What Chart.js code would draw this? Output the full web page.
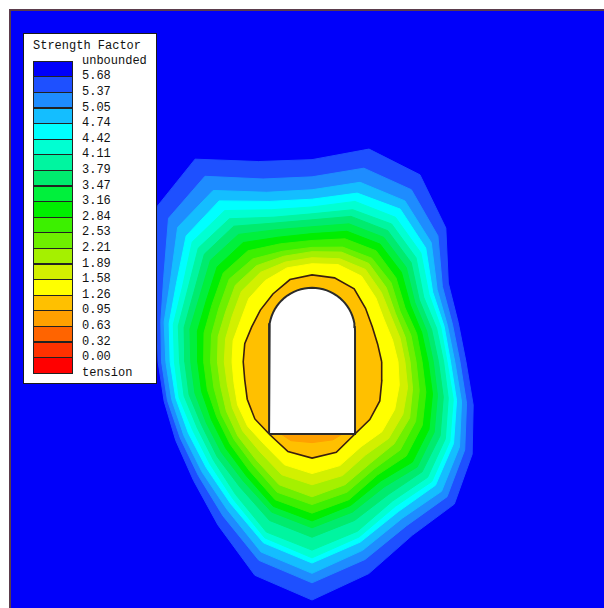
<!DOCTYPE html>
<html lang="en">
<head>
  <meta charset="UTF-8">
  <title>Strength Factor</title>
  <script src="https://cdn.jsdelivr.net/npm/chart.js"></script>
  <style>
    body { margin: 0; background: #fff; }
    #wrap { position: relative; width: 604px; height: 608px; }
    #legend {
      position: absolute; left: 23px; top: 33px; width: 132px; height: 349px;
      background: #fff; border: 1px solid #1a1a1a;
      font-family: "Liberation Mono", "DejaVu Sans Mono", monospace; font-size: 12px; color: #111;
    }
    #legend .title { position: absolute; left: 9px; top: 5px; line-height: 14px; white-space: nowrap; }
    #legend .swatch { position: absolute; left: 9px; width: 40px; height: 16.6px; box-sizing: border-box; border: 1px solid #222; }
    #legend .lbl { position: absolute; left: 58px; line-height: 14px; white-space: nowrap; }
  </style>
</head>
<body>
  <div id="wrap">
    <canvas id="chart" width="604" height="608"></canvas>
    <div id="legend"><div class="title">Strength Factor</div></div>
  </div>
  <script>
    // legend: labels sit on the band boundaries, colours are the bands between them
    const legendLabels = ['unbounded', '5.68', '5.37', '5.05', '4.74', '4.42', '4.11', '3.79', '3.47', '3.16',
      '2.84', '2.53', '2.21', '1.89', '1.58', '1.26', '0.95', '0.63', '0.32', '0.00', 'tension'];
    const bandColors = ['#0000fa', '#1e50ff', '#1e8cff', '#14beff', '#00ffff', '#00ffd2', '#00f5a0', '#00eb6e',
      '#00f03c', '#00ee00', '#3cf000', '#6ef000', '#a5f000', '#d2f000', '#ffff00', '#ffc000', '#ffa000',
      '#ff6400', '#ff3200', '#ff0000'];

    // contour radii (m) around the tunnel centre, one value per ray angle
    const angles = [0, 15, 30, 45, 60, 75, 90, 105, 120, 135, 150, 165, 180, 195, 210, 225, 240, 255, 270, 285, 300, 315, 330, 345];
    const r568 = [17.9, 17.6, 18.3, 22.0, 25.1, 25.6, 23.5, 24.1, 27.2, 25.5, 20.9, 18.7, 17.9, 17.8, 18.3, 19.5, 21.9, 25.7, 27.7, 25.5, 23.3, 23.4, 21.5, 19.4];
    const r537 = [17.2, 16.9, 17.5, 20.7, 23.1, 23.3, 21.5, 22.0, 24.9, 23.6, 19.9, 18.2, 17.5, 17.4, 17.7, 18.7, 20.7, 23.9, 25.7, 23.8, 22.0, 22.2, 20.5, 18.6];
    const r505 = [16.6, 16.3, 16.8, 19.6, 21.6, 21.6, 20.0, 20.4, 23.0, 22.1, 19.0, 17.8, 17.0, 16.9, 17.2, 18.1, 19.8, 22.9, 24.6, 22.7, 21.0, 21.3, 19.8, 18.0];
    const r474 = [16.1, 15.9, 16.2, 18.7, 20.5, 20.3, 18.9, 19.3, 21.6, 20.7, 18.2, 17.2, 16.5, 16.4, 16.6, 17.4, 19.0, 21.8, 23.4, 21.7, 20.1, 20.3, 19.0, 17.4];
    const r442 = [15.7, 15.5, 15.7, 17.9, 19.4, 19.3, 18.0, 18.3, 20.3, 19.7, 17.4, 16.7, 16.0, 16.0, 16.0, 16.8, 18.4, 21.2, 22.8, 21.1, 19.4, 19.7, 18.5, 17.0];
    const r411 = [15.3, 15.0, 15.0, 17.1, 18.5, 18.3, 17.2, 17.4, 19.2, 18.7, 16.7, 16.1, 15.4, 15.4, 15.4, 16.2, 17.8, 20.5, 21.9, 20.4, 18.7, 19.0, 17.9, 16.4];
    const r379 = [14.7, 14.4, 14.4, 16.3, 17.6, 17.5, 16.5, 16.7, 18.2, 17.7, 15.9, 15.4, 14.8, 14.8, 14.8, 15.6, 16.8, 19.1, 20.4, 19.1, 17.8, 18.1, 17.2, 15.8];
    const r347 = [14.1, 13.8, 13.8, 15.5, 16.7, 16.6, 15.7, 15.9, 17.1, 16.7, 15.1, 14.7, 14.1, 14.1, 14.2, 14.9, 16.0, 18.1, 19.3, 18.1, 16.8, 17.3, 16.4, 15.1];
    const r316 = [13.5, 13.2, 13.2, 14.7, 15.8, 15.7, 14.9, 15.0, 16.0, 15.6, 14.2, 13.8, 13.3, 13.3, 13.5, 14.2, 15.3, 17.4, 18.5, 17.3, 16.0, 16.5, 15.7, 14.5];
    const r284 = [12.8, 12.6, 12.5, 13.8, 14.9, 14.8, 14.1, 14.2, 14.9, 14.6, 13.4, 13.0, 12.6, 12.6, 12.8, 13.5, 14.6, 16.6, 17.6, 16.6, 15.2, 15.5, 14.8, 13.7];
    const r253 = [12.1, 11.9, 11.8, 13.0, 13.9, 13.8, 13.3, 13.3, 13.8, 13.6, 12.5, 12.1, 11.8, 11.8, 12.2, 12.8, 13.8, 15.7, 16.6, 15.7, 14.4, 14.5, 13.9, 12.9];
    const r221 = [11.4, 11.2, 11.2, 12.2, 13.2, 13.2, 12.8, 12.7, 12.9, 12.6, 11.6, 11.3, 11.0, 11.0, 11.5, 12.2, 13.1, 14.8, 15.7, 14.8, 13.6, 13.5, 13.1, 12.1];
    const r189 = [10.8, 10.6, 10.6, 11.4, 12.4, 12.4, 12.1, 12.0, 12.0, 11.6, 10.7, 10.4, 10.2, 10.2, 10.7, 11.4, 12.1, 13.6, 14.3, 13.7, 12.5, 12.6, 12.2, 11.5];
    const r158 = [10.0, 9.7, 9.7, 10.5, 11.5, 11.7, 11.4, 11.3, 10.9, 10.4, 9.6, 9.5, 9.3, 9.4, 10.0, 10.6, 11.1, 12.4, 13.0, 12.5, 11.4, 11.5, 11.1, 10.5];
    const r126 = [8.1, 7.9, 8.1, 8.8, 9.8, 10.1, 10.1, 9.9, 9.1, 8.5, 8.1, 8.1, 8.0, 8.1, 8.7, 9.4, 9.8, 10.8, 11.2, 10.9, 9.8, 9.5, 9.1, 8.4];
    const r095 = [5.0, 5.0, 5.0, 5.0, 5.0, 5.0, 5.0, 5.0, 5.0, 5.0, 5.0, 5.0, 5.0, 5.0, 5.0, 5.0, 9.0, 9.5, 9.4, 9.4, 9.0, 5.0, 5.0, 5.0];

    // tunnel (m): floor at y = 0, straight walls then a semicircular crown
    const tunnelSpan = 10;
    const wallHeight = 12;
    const ringCentreY = 8.4;

    const contours = [r568, r537, r505, r474, r442, r411, r379, r347, r316, r284, r253, r221, r189, r158, r126, r095];

    function ring(radii) {
      const pts = angles.map((a, i) => {
        const t = a * Math.PI / 180;
        return { x: radii[i] * Math.cos(t), y: ringCentreY + radii[i] * Math.sin(t) };
      });
      pts.push(pts[0]);
      return pts;
    }

    function tunnel() {
      const h = tunnelSpan / 2;
      const pts = [{ x: -h, y: 0 }, { x: h, y: 0 }, { x: h, y: wallHeight }];
      for (let i = 1; i < 36; i++) {
        const t = i * Math.PI / 36;
        pts.push({ x: h * Math.cos(t), y: wallHeight + h * Math.sin(t) });
      }
      pts.push({ x: -h, y: wallHeight }, { x: -h, y: 0 });
      return pts;
    }

    const datasets = contours.map((r, i) => {
      const col = bandColors[i + 1];
      const isYieldLine = r === r126;
      return {
        data: ring(r),
        showLine: true,
        fill: 'shape',
        backgroundColor: col,
        borderColor: isYieldLine ? '#3a1e0e' : col,
        borderWidth: isYieldLine ? 1.6 : 1,
        pointRadius: 0,
        tension: 0,
        order: 30 - i
      };
    });
    datasets.push({
      data: tunnel(),
      showLine: true,
      fill: 'shape',
      backgroundColor: '#ffffff',
      borderColor: '#2a2a2a',
      borderWidth: 2,
      pointRadius: 0,
      tension: 0,
      order: 0
    });

    const frame = {
      id: 'frame',
      beforeDraw(chart) {
        const { ctx, chartArea: a } = chart;
        ctx.save();
        ctx.fillStyle = bandColors[0];
        ctx.fillRect(a.left, a.top, a.right - a.left, a.bottom - a.top);
        ctx.restore();
      },
      afterDraw(chart) {
        const { ctx, chartArea: a } = chart;
        ctx.save();
        ctx.strokeStyle = '#5b3c4c';
        ctx.lineWidth = 2;
        ctx.beginPath();
        ctx.moveTo(a.left, a.bottom);
        ctx.lineTo(a.left, a.top);
        ctx.lineTo(a.right, a.top);
        ctx.stroke();
        ctx.restore();
      }
    };

    new Chart(document.getElementById('chart'), {
      type: 'scatter',
      data: { datasets: datasets },
      options: {
        responsive: false,
        animation: false,
        devicePixelRatio: 1,
        indexAxis: 'y',
        layout: { padding: { left: 10, top: 10, right: 0, bottom: 0 } },
        scales: {
          x: { type: 'linear', display: false, min: -35.12, max: 33.95 },
          y: { type: 'linear', display: false, min: -20.23, max: 49.30 }
        },
        plugins: { legend: { display: false }, tooltip: { enabled: false } }
      },
      plugins: [frame]
    });

    const legend = document.getElementById('legend');
    bandColors.forEach((c, i) => {
      const s = document.createElement('div');
      s.className = 'swatch';
      s.style.top = (26.7 + i * 15.6) + 'px';
      s.style.background = c;
      legend.appendChild(s);
    });
    legendLabels.forEach((t, i) => {
      const l = document.createElement('div');
      l.className = 'lbl';
      l.style.top = (26.7 + i * 15.6 - 7) + 'px';
      l.textContent = t;
      legend.appendChild(l);
    });
  </script>
</body>
</html>
